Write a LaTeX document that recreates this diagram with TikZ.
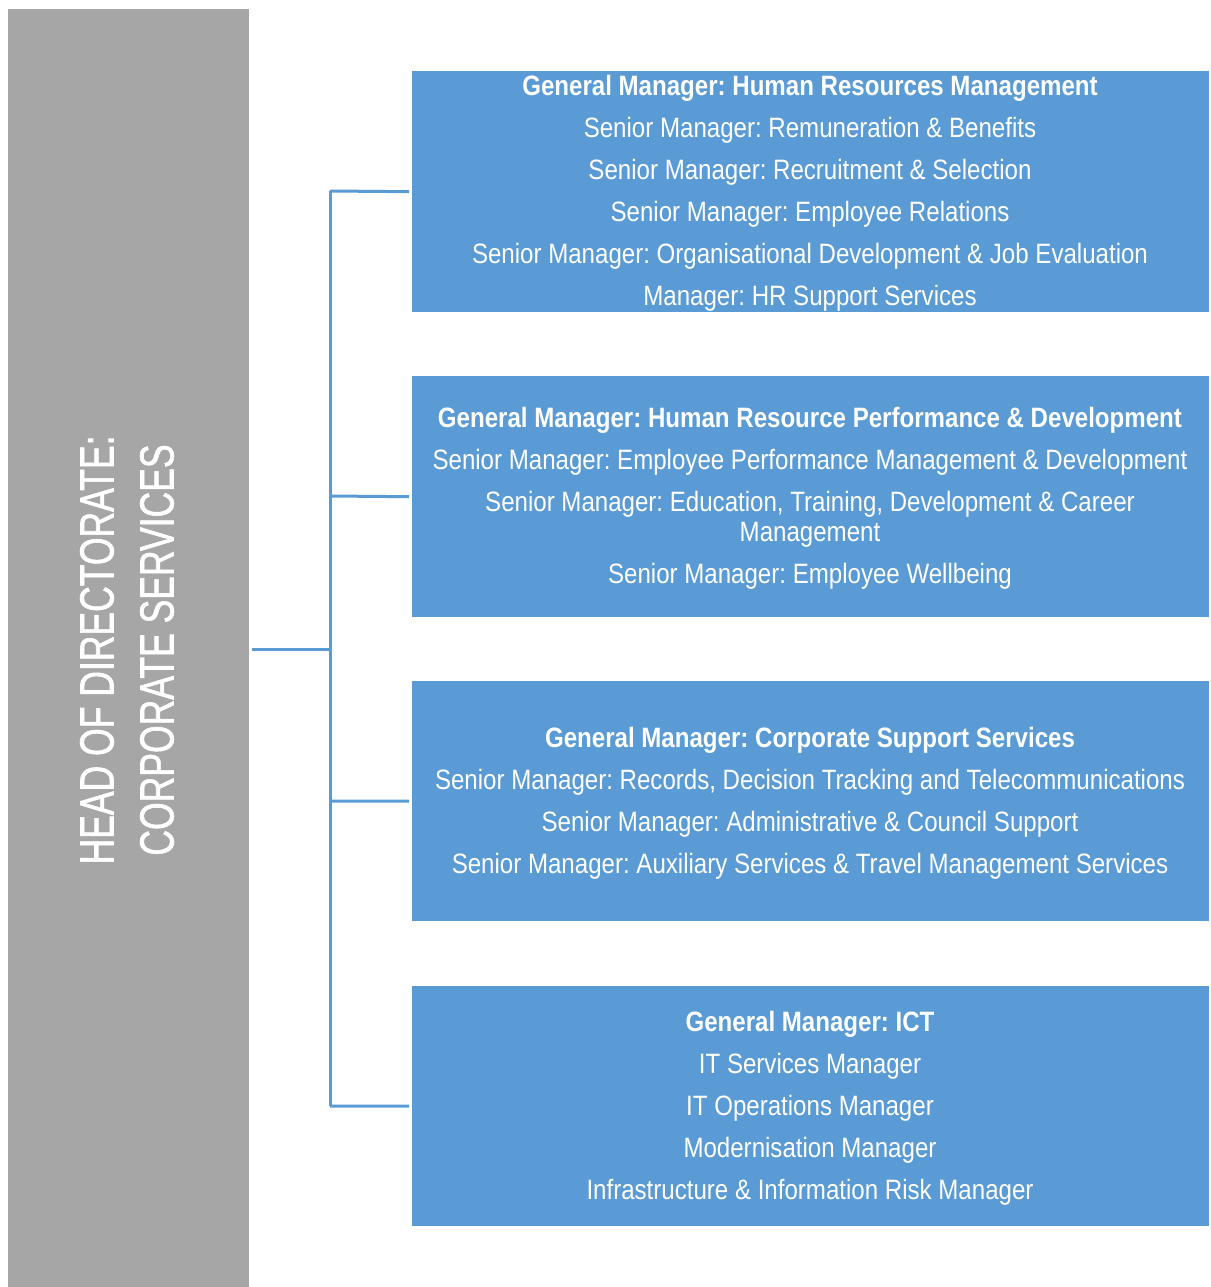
\documentclass[tikz,border=0pt]{standalone}
\usepackage{fontspec}
\setmainfont{Liberation Sans}[FakeStretch=0.86]
\newfontfamily\headfont{Liberation Sans}[FakeStretch=0.74,FakeBold=1.2]
\definecolor{boxblue}{HTML}{5B9BD5}
\definecolor{headgray}{HTML}{A6A6A6}
\frenchspacing
\begin{document}
\begin{tikzpicture}[x=1pt,y=-1pt,
  gmbox/.style={fill=boxblue,draw=none,minimum width=797pt,anchor=north west,inner sep=0pt},
  gmtext/.style={text=white,align=center,anchor=north,inner sep=0pt,font=\fontsize{28}{30}\selectfont},
  link/.style={draw=boxblue,line width=3pt}]
\useasboundingbox (0,0) rectangle (1210,1287);
\node[fill=headgray,minimum width=241pt,minimum height=1278pt,anchor=north west,inner sep=0pt] (head) at (8,9) {};
\node[rotate=90,text=white,align=center,font=\headfont\fontsize{48}{60}\selectfont\frenchspacing] (headtxt) at (127,650) {HEAD OF DIRECTORATE:\\CORPORATE SERVICES};
\node[gmbox,minimum height=241pt] (gm1) at (412,71) {};
\node[gmbox,minimum height=241pt] (gm2) at (412,376) {};
\node[gmbox,minimum height=240pt] (gm3) at (412,681) {};
\node[gmbox,minimum height=240pt] (gm4) at (412,986) {};
\node[gmtext] (t1) at (810,75) {\textbf{General Manager: Human Resources Management}\\[12pt]
Senior Manager: Remuneration \& Benefits\\[12pt]
Senior Manager: Recruitment \& Selection\\[12pt]
Senior Manager: Employee Relations\\[12pt]
Senior Manager: Organisational Development \& Job Evaluation\\[12pt]
Manager: HR Support Services};
\node[gmtext] (t2) at (810,407) {\textbf{General Manager: Human Resource Performance \& Development}\\[12pt]
Senior Manager: Employee Performance Management \& Development\\[12pt]
Senior Manager: Education, Training, Development \& Career\\
Management\\[12pt]
Senior Manager: Employee Wellbeing};
\node[gmtext] (t3) at (810,727) {\textbf{General Manager: Corporate Support Services}\\[12pt]
Senior Manager: Records, Decision Tracking and Telecommunications\\[12pt]
Senior Manager: Administrative \& Council Support\\[12pt]
Senior Manager: Auxiliary Services \& Travel Management Services};
\node[gmtext] (t4) at (810,1011) {\textbf{General Manager: ICT}\\[12pt]
IT Services Manager\\[12pt]
IT Operations Manager\\[12pt]
Modernisation Manager\\[12pt]
Infrastructure \& Information Risk Manager};
\coordinate (bus) at (330,649);
\draw[link] ([xshift=3pt]head.east |- bus) -- (bus);
\draw[link] (330,191) -- (330,1106);
\draw[link] (330,191) -- ([xshift=-3pt]gm1.west);
\draw[link] (330,496) -- ([xshift=-3pt]gm2.west);
\draw[link] (330,801) -- ([xshift=-3pt]gm3.west);
\draw[link] (330,1106) -- ([xshift=-3pt]gm4.west);
\end{tikzpicture}
\end{document}
